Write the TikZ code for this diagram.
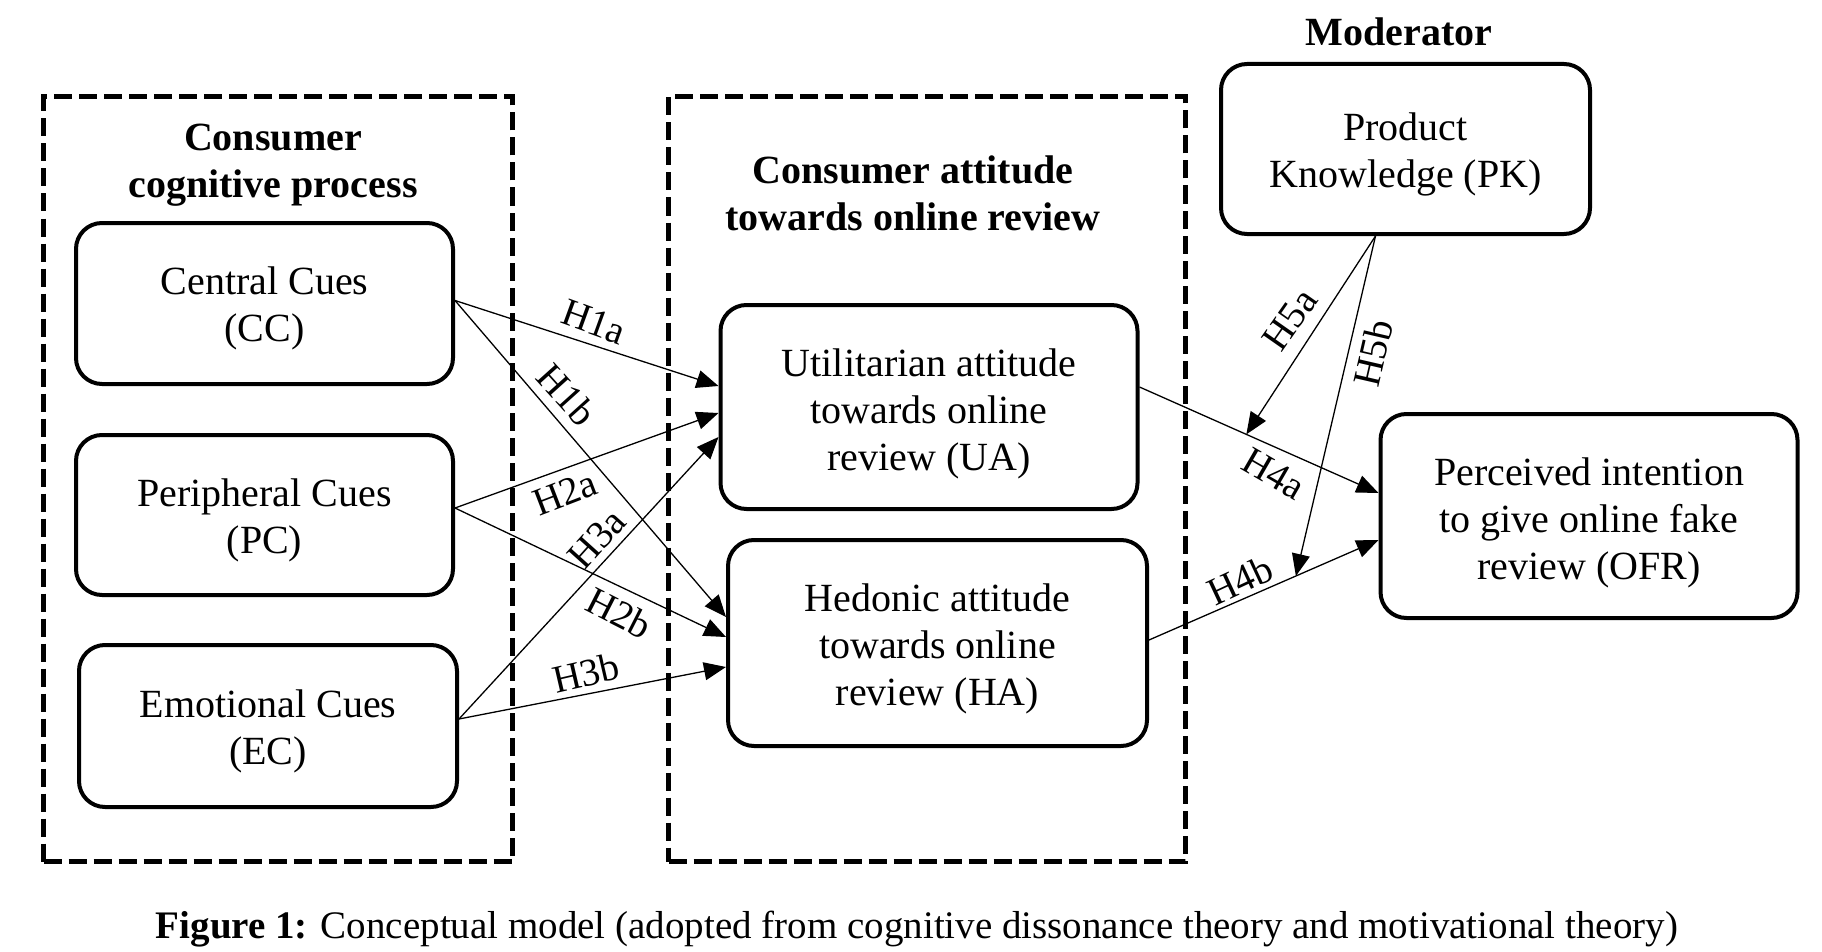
\documentclass[tikz,border=0pt]{standalone}
\usepackage{fontspec}
\setmainfont{Liberation Serif}
\usetikzlibrary{arrows.meta,calc}
\begin{document}
\begin{tikzpicture}[x=1pt,y=-1pt,
  box/.style={draw, line width=4pt, rounded corners=26pt, inner sep=0pt},
  txt/.style={align=center, inner sep=0pt, font=\fontsize{40}{47}\selectfont},
  grp/.style={draw, line width=5pt, dash pattern=on 18pt off 7pt, inner sep=0pt},
  conn/.style={line width=1.3pt, -{Triangle[length=22pt,width=18pt]}},
  lbl/.style={font=\fontsize{39}{44}\selectfont, inner sep=0pt},
  ttl/.style={font=\fontsize{40}{47}\selectfont\bfseries, align=center, inner sep=0pt}]
\useasboundingbox (0,0) rectangle (1822,952);
% group frames
\node[grp, minimum width=469pt, minimum height=765pt] (grp1) at (278,479) {};
\node[grp, minimum width=517pt, minimum height=765pt] (grp2) at (927,479) {};
% titles
\node[ttl] (t1) at (273,165) {Consumer\\cognitive process};
\node[ttl] (t2) at (913,193) {Consumer attitude\\towards online review};
\node[ttl] (t3) at (1399,32) {Moderator};
% boxes
\node[box, minimum width=377pt, minimum height=161pt] (cc) at (264.5,303.5) {};
\node[box, minimum width=377pt, minimum height=160pt] (pc) at (264.5,515) {};
\node[box, minimum width=378pt, minimum height=162pt] (ec) at (268,726) {};
\node[box, minimum width=417pt, minimum height=204pt] (ua) at (929,407) {};
\node[box, minimum width=419pt, minimum height=206pt] (ha) at (937.5,643) {};
\node[box, minimum width=417pt, minimum height=204pt] (ofr) at (1589,516) {};
\node[box, minimum width=369pt, minimum height=170pt] (pk) at (1405.5,149) {};
% box texts
\node[txt] (cct) at ($(cc)+(0,5)$) {Central Cues\\(CC)};
\node[txt] (pct) at ($(pc)+(0,5)$) {Peripheral Cues\\(PC)};
\node[txt] (ect) at ($(ec)+(0,5)$) {Emotional Cues\\(EC)};
\node[txt] (uat) at ($(ua)+(0,7)$) {Utilitarian attitude\\towards online\\review (UA)};
\node[txt] (hat) at ($(ha)+(0,6)$) {Hedonic attitude\\towards online\\review (HA)};
\node[txt] (ofrt) at ($(ofr)+(0,7)$) {Perceived intention\\to give online fake\\review (OFR)};
\node[txt] (pkt) at ($(pk)+(0,5)$) {Product\\Knowledge (PK)};
% connector end points
\coordinate (ccs) at ($(cc.east)+(0,-3)$);
\coordinate (pcs) at ($(pc.east)+(0,-7)$);
\coordinate (ecs) at ($(ec.east)+(0,-7)$);
\coordinate (h4as) at ($(ua.east)+(0,-20)$);
\coordinate (h4ae) at ($(ofr.west)+(0,-23)$);
\coordinate (h4bs) at ($(ha.east)+(0,-3)$);
\coordinate (h4be) at ($(ofr.west)+(0,24)$);
\coordinate (pks) at ($(pk.south)+(-30,0)$);
\coordinate (h5ae) at ($(h4as)!0.447!(h4ae)$);
\coordinate (h5be) at ($(h4bs)!0.64!(h4be)$);
% connectors
\draw[conn] (ccs) -- ($(ua.west)+(0,-21)$);
\draw[conn] (ccs) -- ($(ha.west)+(0,-26)$);
\draw[conn] (pcs) -- ($(ua.west)+(0,6)$);
\draw[conn] (pcs) -- ($(ha.west)+(0,-6)$);
\draw[conn] (ecs) -- ($(ua.west)+(0,30)$);
\draw[conn] (ecs) -- ($(ha.west)+(0,24)$);
\draw[conn] (h4as) -- (h4ae);
\draw[conn] (h4bs) -- (h4be);
\draw[conn] (pks) -- (h5ae);
\draw[conn] (pks) -- (h5be);
% labels
\node[lbl, rotate=-20] (l1a) at (594,322) {H1a};
\node[lbl, rotate=-48] (l1b) at (567,395) {H1b};
\node[lbl, rotate=21] (l2a) at (565,493) {H2a};
\node[lbl, rotate=48] (l3a) at (597,539) {H3a};
\node[lbl, rotate=-27] (l2b) at (619,613) {H2b};
\node[lbl, rotate=13] (l3b) at (586,673) {H3b};
\node[lbl, rotate=-30] (l4a) at (1274,474) {H4a};
\node[lbl, rotate=25] (l4b) at (1240,580) {H4b};
\node[lbl, rotate=55] (l5a) at (1290,320) {H5a};
\node[lbl, rotate=77] (l5b) at (1373,353) {H5b};
% caption
\node[font=\fontsize{39}{46}\selectfont, inner sep=0pt] (cap) at (917,929) {\textbf{Figure 1:} Conceptual model (adopted from cognitive dissonance theory and motivational theory)};
\end{tikzpicture}
\end{document}
